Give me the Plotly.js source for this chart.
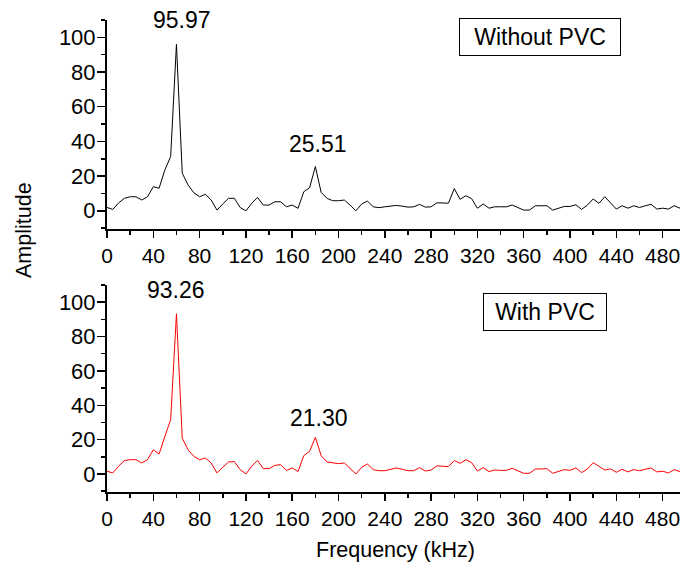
<!DOCTYPE html>
<html>
<head>
<meta charset="utf-8">
<script src="https://cdn.plot.ly/plotly-3.0.1.min.js"></script>
<style>html,body{margin:0;padding:0;background:#fff;}#chart{width:681px;height:569px;}</style>
</head>
<body>
<div id="chart"></div>
<script>
const frequency = [0,5,10,15,20,25,30,35,40,45,50,55,60,65,70,75,80,85,90,95,
  100,105,110,115,120,125,130,135,140,145,150,155,160,165,170,175,180,185,190,195,
  200,205,210,215,220,225,230,235,240,245,250,255,260,265,270,275,280,285,290,295,
  300,305,310,315,320,325,330,335,340,345,350,355,360,365,370,375,380,385,390,395,
  400,405,410,415,420,425,430,435,440,445,450,455,460,465,470,475,480,485,490,495];

const withoutPVC = [1.9,0.8,4.5,7.2,8.1,8.1,6.2,8.1,13.9,13.0,
  23.6,31.3,95.97,21.7,14.9,10.4,8.1,9.5,6.2,0.4,
  3.9,7.2,7.2,1.9,0,4.3,7.7,3.3,3.3,5.2,
  5.2,2.3,3.3,1.4,11.0,13.3,25.51,10.6,7.2,5.8,
  5.8,6.2,3.3,0,3.9,5.6,2.3,1.8,2.3,2.7,
  3.1,2.7,2.1,2.3,3.7,2.1,2.3,4.6,4.6,4.4,
  12.8,6.6,8.7,7.0,1.5,3.9,1.5,2.3,2.3,2.3,
  3.3,1.9,0.4,0.4,2.9,2.9,2.9,0.4,1.5,2.5,
  2.5,3.5,0.8,3.3,6.8,4.3,8.1,4.3,1.0,2.9,
  1.5,2.9,1.9,2.9,3.7,1.0,1.5,1.0,2.9,1.5];

const withPVC = [1.6,0.6,4.5,7.8,8.3,8.3,6.4,8.3,14.1,11.6,
  21.9,31.6,93.26,20.9,14.1,10.3,8.3,9.3,6.4,0.6,
  3.9,7.0,7.2,2.5,0,4.5,7.9,3.1,3.1,5.0,
  5.4,2.1,3.5,1.4,10.7,13.2,21.30,10.7,7.0,6.4,
  6.0,6.4,3.1,0,3.9,5.8,2.5,1.9,1.9,2.5,
  3.5,2.7,1.9,1.9,3.7,1.7,2.3,4.7,4.3,4.3,
  7.8,6.2,8.3,6.6,1.7,3.7,1.4,2.3,2.1,2.1,
  3.3,1.7,0.4,0.4,2.9,2.9,3.1,0.4,1.6,2.5,
  2.1,3.5,0.8,2.9,6.6,4.3,2.3,2.9,1.0,2.7,
  1.2,2.5,1.9,2.7,3.5,1.2,1.6,0.6,2.5,1.4];

const peakLabelsTop = [{x: 60, y: 95.97, text: '95.97'}, {x: 180, y: 25.51, text: '25.51'}];
const peakLabelsBottom = [{x: 60, y: 93.26, text: '93.26'}, {x: 180, y: 21.30, text: '21.30'}];
const xTickVals = [0,40,80,120,160,200,240,280,320,360,400,440,480];
const yTickVals = [0,20,40,60,80,100];

const FONT = 'Arial, "Liberation Sans", sans-serif';

const traces = [
  {x: frequency, y: withoutPVC, type: 'scatter', mode: 'lines', line: {color: '#000000', width: 1}, xaxis: 'x', yaxis: 'y', showlegend: false},
  {x: frequency, y: withPVC, type: 'scatter', mode: 'lines', line: {color: '#ff0000', width: 1}, xaxis: 'x2', yaxis: 'y2', showlegend: false}
];

function xAxis(anchor) {
  return {
    anchor: anchor, domain: [0, 1], range: [0, 495],
    tickmode: 'array', tickvals: xTickVals, ticktext: xTickVals.map(String),
    ticks: 'outside', ticklen: 7, tickwidth: 1.5, tickcolor: '#000',
    minor: {dtick: 20, tick0: 0, ticks: 'outside', ticklen: 4, tickwidth: 1.5, tickcolor: '#000'},
    showline: true, linecolor: '#000', linewidth: 2, showgrid: false, zeroline: false,
    tickfont: {family: FONT, size: 21, color: '#000'}
  };
}
function yAxis(anchor, domain) {
  return {
    anchor: anchor, domain: domain, range: [-10.5, 110],
    tickmode: 'array', tickvals: yTickVals, ticktext: yTickVals.map(String),
    ticks: 'outside', ticklen: 8, tickwidth: 1.5, tickcolor: '#000',
    minor: {dtick: 10, tick0: 0, ticks: 'outside', ticklen: 4, tickwidth: 1.5, tickcolor: '#000'},
    showline: true, linecolor: '#000', linewidth: 2, showgrid: false, zeroline: false,
    ticklabelstandoff: -3,
    tickfont: {family: FONT, size: 22, color: '#000'}
  };
}

const annotations = [];
peakLabelsTop.forEach((p, i) => annotations.push({
  x: p.x, y: p.y, xref: 'x', yref: 'y', text: p.text, showarrow: false,
  xanchor: 'center', yanchor: 'middle', xshift: i === 0 ? 6 : 3, yshift: i === 0 ? 24 : 23,
  font: {family: FONT, size: 23, color: '#000'}
}));
peakLabelsBottom.forEach((p, i) => annotations.push({
  x: p.x, y: p.y, xref: 'x2', yref: 'y2', text: p.text, showarrow: false,
  xanchor: 'center', yanchor: 'middle', xshift: i === 0 ? 0 : 4, yshift: i === 0 ? 24 : 19,
  font: {family: FONT, size: 23, color: '#000'}
}));
annotations.push({
  xref: 'paper', yref: 'paper', x: (540 - 107) / 573, y: (492 - 37.5) / 472,
  text: 'Without PVC', showarrow: false, xanchor: 'center', yanchor: 'middle',
  width: 160, height: 36, borderpad: 0, bordercolor: '#000', borderwidth: 1,
  font: {family: FONT, size: 23, color: '#000'}
});
annotations.push({
  xref: 'paper', yref: 'paper', x: (545 - 107) / 573, y: (492 - 312) / 472,
  text: 'With PVC', showarrow: false, xanchor: 'center', yanchor: 'middle',
  width: 122, height: 36, borderpad: 0, bordercolor: '#000', borderwidth: 1,
  font: {family: FONT, size: 23, color: '#000'}
});
annotations.push({
  xref: 'paper', yref: 'paper', x: (24 - 107) / 573, y: (492 - 230) / 472,
  text: 'Amplitude', showarrow: false, textangle: -90, xanchor: 'center', yanchor: 'middle',
  font: {family: FONT, size: 21.5, color: '#000'}
});
annotations.push({
  xref: 'paper', yref: 'paper', x: (395 - 107) / 573, y: (492 - 550) / 472,
  text: 'Frequency (kHz)', showarrow: false, xanchor: 'center', yanchor: 'middle',
  font: {family: FONT, size: 21.5, color: '#000'}
});

const layout = {
  width: 681, height: 569,
  margin: {l: 107, r: 1, t: 20, b: 77},
  paper_bgcolor: '#fff', plot_bgcolor: '#fff',
  font: {family: FONT, color: '#000'},
  xaxis: xAxis('y'),
  yaxis: yAxis('x', [(492 - 229) / 472, 1]),
  xaxis2: xAxis('y2'),
  yaxis2: yAxis('x2', [0, (492 - 285) / 472]),
  annotations: annotations,
  showlegend: false
};

Plotly.newPlot('chart', traces, layout, {displayModeBar: false, staticPlot: true});
</script>
</body>
</html>
